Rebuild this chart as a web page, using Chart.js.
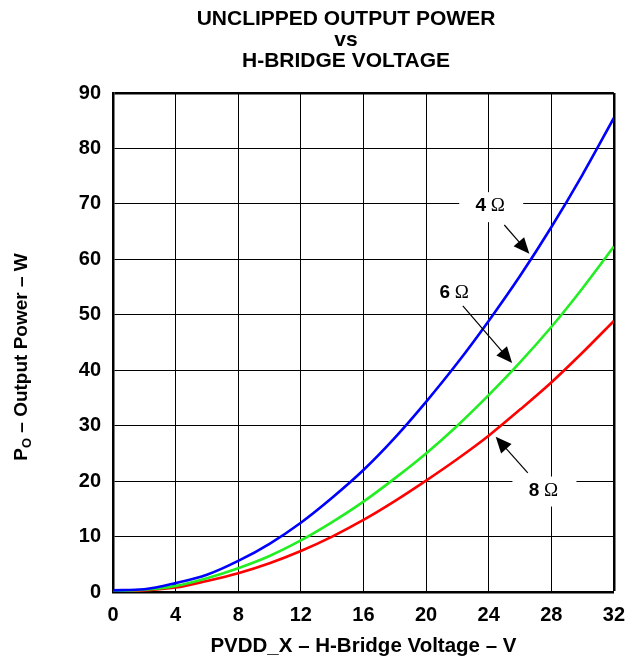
<!DOCTYPE html>
<html>
<head>
<meta charset="utf-8">
<script src="https://cdn.jsdelivr.net/npm/chart.js@4"></script>
<style>
  html, body { margin: 0; padding: 0; background: #fff; }
</style>
</head>
<body>
<canvas id="chart" width="636" height="661"></canvas>
<script>
// データ
const voltage = [0, 2, 4, 6, 8, 10, 12, 14, 16, 18, 20, 22, 24, 26, 28, 30, 32];
const power4 = [0.3, 0.5, 1.6, 3.1, 5.6, 8.7, 12.5, 17.0, 22.0, 27.8, 34.3, 41.3, 48.9, 57.0, 65.8, 75.3, 85.5];
const power6 = [0.2, 0.4, 1.1, 2.5, 4.3, 6.5, 9.3, 12.6, 16.3, 20.5, 25.0, 30.0, 35.5, 41.4, 47.8, 54.8, 62.3];
const power8 = [0.2, 0.3, 0.8, 2.0, 3.4, 5.2, 7.4, 10.0, 13.0, 16.4, 20.1, 24.0, 28.2, 32.9, 37.8, 43.2, 48.9];
const xTicks = [0, 4, 8, 12, 16, 20, 24, 28, 32];
const yTicks = [0, 10, 20, 30, 40, 50, 60, 70, 80, 90];
const loads = ['4', '6', '8'];

// 注記（ラベル位置と矢印、データ座標）
const notes = [
  { load: '4', label: [24.1, 69.6], box: true, from: [25.0, 66.2], to: [26.6, 61.0] },
  { load: '6', label: [21.8, 54.0], box: false, from: [22.35, 51.6], to: [25.5, 41.3] },
  { load: '8', label: [27.5, 18.3], box: true, from: [26.5, 21.5], to: [24.45, 28.0] },
];

const FONT = '"Liberation Sans", Arial, Helvetica, sans-serif';

function toPoints(values) {
  return voltage.map((v, i) => ({ x: v, y: values[i] }));
}

function drawArrow(ctx, x1, y1, x2, y2) {
  const ang = Math.atan2(y2 - y1, x2 - x1);
  const len = 16, half = 7;
  ctx.beginPath();
  ctx.moveTo(x1, y1);
  ctx.lineTo(x2 - Math.cos(ang) * len * 0.8, y2 - Math.sin(ang) * len * 0.8);
  ctx.stroke();
  ctx.beginPath();
  ctx.moveTo(x2, y2);
  ctx.lineTo(x2 - Math.cos(ang) * len + Math.sin(ang) * half, y2 - Math.sin(ang) * len - Math.cos(ang) * half);
  ctx.lineTo(x2 - Math.cos(ang) * len - Math.sin(ang) * half, y2 - Math.sin(ang) * len + Math.cos(ang) * half);
  ctx.closePath();
  ctx.fill();
}

// タイトルの中心位置を調整
const titleShift = {
  id: 'titleShift',
  afterLayout(chart) {
    if (chart.titleBlock) {
      chart.titleBlock.left = 78;
      chart.titleBlock.right = 614;
    }
  }
};

// 注記と縦軸タイトル（下付き文字あり）
const annotations = {
  id: 'annotations',
  afterDatasetsDraw(chart) {
    const ctx = chart.ctx;
    const xs = chart.scales.x, ys = chart.scales.y;
    ctx.save();
    notes.forEach(n => {
      const lx = xs.getPixelForValue(n.label[0]);
      const ly = ys.getPixelForValue(n.label[1]);
      if (n.box) {
        ctx.fillStyle = '#fff';
        ctx.fillRect(lx - 31, ly - 14, 64, 30);
      }
      ctx.fillStyle = '#000';
      ctx.strokeStyle = '#000';
      ctx.lineWidth = 1.2;
      ctx.textBaseline = 'middle';
      ctx.font = 'bold 19px ' + FONT;
      const w1 = ctx.measureText(n.load).width;
      ctx.font = '19px "Liberation Serif", "Times New Roman", serif';
      const w2 = ctx.measureText(' Ω').width;
      let sx = lx - (w1 + w2) / 2;
      ctx.textAlign = 'left';
      ctx.font = 'bold 19px ' + FONT;
      ctx.fillText(n.load, sx, ly);
      ctx.font = '19px "Liberation Serif", "Times New Roman", serif';
      ctx.fillText(' Ω', sx + w1, ly);
      drawArrow(ctx,
        xs.getPixelForValue(n.from[0]), ys.getPixelForValue(n.from[1]),
        xs.getPixelForValue(n.to[0]), ys.getPixelForValue(n.to[1]));
    });

    // 縦軸タイトル
    ctx.translate(22, 357);
    ctx.rotate(-Math.PI / 2);
    ctx.textBaseline = 'middle';
    ctx.textAlign = 'left';
    const big = 'bold 19px ' + FONT, small = 'bold 13px ' + FONT;
    ctx.font = big;
    const wP = ctx.measureText('P').width;
    const rest = ' – Output Power – W';
    const wR = ctx.measureText(rest).width;
    ctx.font = small;
    const wO = ctx.measureText('O').width;
    let x0 = -(wP + wO + wR) / 2;
    ctx.font = big;
    ctx.fillText('P', x0, 0);
    ctx.font = small;
    ctx.fillText('O', x0 + wP, 5);
    ctx.font = big;
    ctx.fillText(rest, x0 + wP + wO, 0);
    ctx.restore();
  }
};

const colors = ['#0000ff', '#22ee22', '#ff0000'];
const series = [power4, power6, power8];

new Chart(document.getElementById('chart').getContext('2d'), {
  type: 'line',
  data: {
    datasets: series.map((s, i) => ({
      label: loads[i] + ' Ω',
      data: toPoints(s),
      borderColor: colors[i],
      backgroundColor: colors[i],
      borderWidth: 2.6,
      pointRadius: 0,
      cubicInterpolationMode: 'monotone',
      fill: false,
    })),
  },
  options: {
    responsive: false,
    animation: false,
    layout: { padding: { top: 0, right: 22, bottom: 0, left: 0 } },
    plugins: {
      legend: { display: false },
      tooltip: { enabled: false },
      title: {
        display: true,
        text: ['UNCLIPPED OUTPUT POWER', 'vs', 'H-BRIDGE VOLTAGE'],
        color: '#000',
        font: { family: FONT, size: 21, weight: 'bold', lineHeight: 0.985 },
        padding: { top: 9, bottom: 22 },
      },
    },
    scales: {
      x: {
        type: 'linear',
        min: 0,
        max: 32,
        afterBuildTicks: scale => { scale.ticks = xTicks.map(v => ({ value: v })); },
        afterFit: scale => { scale.height = 69; },
        ticks: {
          color: '#000',
          padding: 11,
          maxRotation: 0,
          font: { family: FONT, size: 20, weight: 'bold' },
        },
        grid: {
          color: '#000',
          drawTicks: false,
          lineWidth: ctx => (ctx.tick && ctx.tick.value === 32 ? 2.5 : 1),
        },
        border: { color: '#000', width: 2.5 },
        title: {
          display: true,
          text: 'PVDD_X – H-Bridge Voltage – V',
          color: '#000',
          font: { family: FONT, size: 20.5, weight: 'bold' },
          padding: { top: 0, bottom: 2 },
        },
      },
      y: {
        type: 'linear',
        min: 0,
        max: 90,
        afterBuildTicks: scale => { scale.ticks = yTicks.map(v => ({ value: v })); },
        afterFit: scale => { scale.width = 113; },
        ticks: {
          color: '#000',
          padding: 12,
          font: { family: FONT, size: 20, weight: 'bold' },
        },
        grid: {
          color: '#000',
          drawTicks: false,
          lineWidth: ctx => (ctx.tick && ctx.tick.value === 90 ? 2.5 : 1),
        },
        border: { color: '#000', width: 2.5 },
      },
    },
  },
  plugins: [titleShift, annotations],
});
</script>
</body>
</html>
